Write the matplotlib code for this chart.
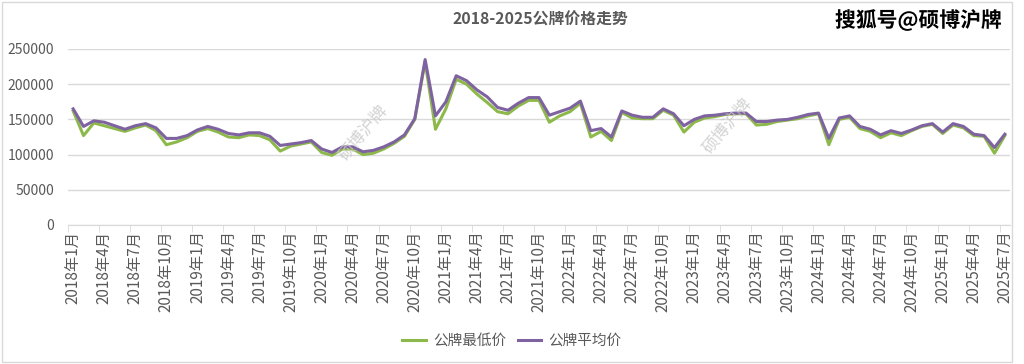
import numpy as np
import matplotlib
matplotlib.use('Agg')
import matplotlib.pyplot as plt
from matplotlib.patches import Rectangle
import matplotlib.patheffects as pe

plt.rcParams['font.family'] = ['Noto Sans CJK SC', 'DejaVu Sans']

# Monthly data, 2018-01 .. 2025-07
years = list(range(2018, 2026))
months = ['%d年%d月' % (y, m) for y in years for m in range(1, 13)][:91]

avg_price = [165000, 140000, 148000, 146000, 141000, 136000, 141000, 144000, 138000, 123000,
             123000, 127000, 135000, 140000, 136000, 130000, 128000, 131000, 131000, 126000,
             113000, 115000, 117000, 120000, 108000, 103000, 111000, 111000, 104000, 106000,
             111000, 118000, 128000, 151000, 235000, 155000, 175000, 212000, 205000, 192000,
             182000, 167000, 163000, 173000, 181000, 181000, 156000, 161000, 166000, 176000,
             134000, 137000, 125000, 162000, 156000, 153000, 153000, 165000, 158000, 141000,
             150000, 155000, 156000, 158000, 159000, 159000, 147000, 147000, 149000, 150000,
             153000, 157000, 159000, 123000, 152000, 155000, 140000, 136000, 128000, 134000,
             130000, 135000, 141000, 144000, 132000, 144000, 140000, 129000, 127000, 110000,
             129000]
min_price = [162000, 127000, 145000, 141000, 137000, 133000, 138000, 142000, 134000, 114000,
             118000, 124000, 133000, 137000, 132000, 125000, 124000, 128000, 127000, 121000,
             105000, 112000, 115000, 118000, 103000, 99000, 108000, 108000, 100000, 102000,
             108000, 116000, 126000, 150000, 232000, 136000, 165000, 207000, 200000, 186000,
             174000, 161000, 158000, 169000, 177000, 177000, 146000, 155000, 161000, 173000,
             125000, 133000, 120000, 160000, 152000, 151000, 151000, 163000, 156000, 132000,
             146000, 152000, 154000, 157000, 158000, 158000, 142000, 143000, 147000, 149000,
             151000, 155000, 158000, 114000, 150000, 153000, 137000, 133000, 124000, 131000,
             127000, 134000, 140000, 143000, 130000, 142000, 138000, 127000, 126000, 102000,
             127000]

green = '#8DB84A'
purple = '#7F63A1'
grey_txt = '#595959'

fig = plt.figure(figsize=(10.24, 3.64), dpi=100)
ax = fig.add_axes([68/1024, 1-225/364, (1010-68)/1024, (225-49)/364])

x = np.arange(len(months))
ax.plot(x, min_price, color=green, lw=2.2, label='公牌最低价', solid_joinstyle='round')
ax.plot(x, avg_price, color=purple, lw=2.2, label='公牌平均价', solid_joinstyle='round')

ax.set_xlim(-0.5, len(months) - 0.5)
ax.set_ylim(0, 250000)
ax.set_yticks(np.arange(0, 250001, 50000))
ax.yaxis.grid(True, color='#D9D9D9', lw=1)
ax.set_axisbelow(True)
for s in ['top', 'right', 'left']:
    ax.spines[s].set_visible(False)
ax.spines['bottom'].set_color('#D9D9D9')
ax.tick_params(axis='y', length=0, labelsize=10, labelcolor=grey_txt, pad=10)

# category labels every 3 months, tick marks on category boundaries
ax.set_xticks(x[::3])
ax.set_xticklabels(months[::3], rotation=90, fontsize=11, color=grey_txt)
ax.tick_params(axis='x', which='major', length=0, pad=4)
ax.set_xticks(np.arange(-0.5, len(months), 3), minor=True)
ax.tick_params(axis='x', which='minor', length=5, color='#D9D9D9')

fig.text(0.528, 0.945, '2018-2025公牌价格走势', ha='center', va='center',
         fontsize=11.4, fontweight='bold', color=grey_txt)

fig.text(0.897, 0.945, '搜狐号@硕博沪牌', ha='center', va='center', fontsize=15,
         fontweight='bold', color='black',
         path_effects=[pe.withStroke(linewidth=2.5, foreground='white')])

# faint watermarks
for wx, wy in [(0.355, 0.635), (0.71, 0.655)]:
    fig.text(wx, wy, '硕博沪牌', ha='center', va='center', fontsize=12, rotation=50,
             color='#C8C8C8', alpha=0.8)

fig.legend(loc='center', bbox_to_anchor=(0.5, 0.063), ncol=2, frameon=False,
           fontsize=10.5, labelcolor=grey_txt, handlelength=1.6, handletextpad=0.5,
           columnspacing=0.8)

fig.patches.append(Rectangle((0.002, 0.005), 0.986, 0.99, transform=fig.transFigure,
                             fill=False, edgecolor='#D9D9D9', lw=1))

fig.savefig('out.png', dpi=100)
